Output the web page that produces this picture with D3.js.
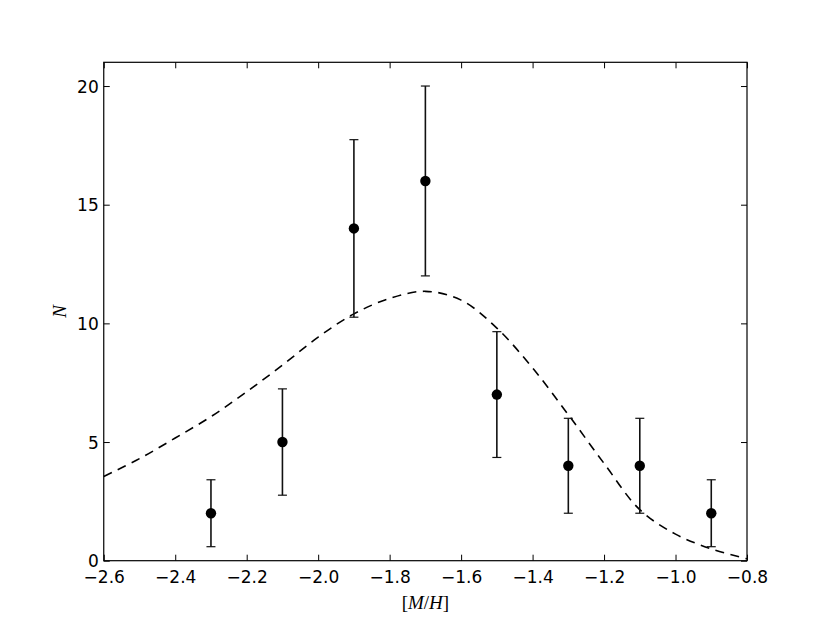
<!DOCTYPE html>
<html><head><meta charset="utf-8">
<script src="https://cdn.jsdelivr.net/npm/d3@7"></script>
<style>body{margin:0;background:#fff}svg{display:block}</style>
</head><body>
<script>
const metallicity = [-2.3, -2.1, -1.9, -1.7, -1.5, -1.3, -1.1, -0.9];
const counts = [2, 5, 14, 16, 7, 4, 4, 2];
const errors = [1.41, 2.24, 3.74, 4.0, 2.65, 2.0, 2.0, 1.41];
const curveX = [-2.6, -2.5, -2.4, -2.3, -2.2, -2.1, -2.0, -1.9, -1.8, -1.7, -1.6, -1.5, -1.4, -1.3, -1.2, -1.1, -1.0, -0.9, -0.8];
const curveY = [3.55, 4.3, 5.17, 6.07, 7.12, 8.24, 9.42, 10.4, 11.05, 11.35, 10.98, 9.8, 8.12, 6.15, 4.1, 2.15, 1.12, 0.5, 0.08];
const xTicks = [-2.6, -2.4, -2.2, -2.0, -1.8, -1.6, -1.4, -1.2, -1.0, -0.8];
const yTicks = [0, 5, 10, 15, 20];

const W = 830, H = 623;
const m = {left: 103.75, right: 747, top: 62.3, bottom: 560.7};
const svg = d3.select("body").append("svg").attr("width", W).attr("height", H);
const x = d3.scaleLinear().domain([-2.6, -0.8]).range([m.left, m.right]);
const y = d3.scaleLinear().domain([0, 21]).range([m.bottom, m.top]);
const font = "DejaVu Sans, sans-serif";
const fs = "17px";

// dashed model curve
const line = d3.line().x((d, i) => x(curveX[i])).y(d => y(d)).curve(d3.curveCatmullRom.alpha(0.5));
svg.append("path").datum(curveY).attr("d", line)
  .attr("fill", "none").attr("stroke", "#000").attr("stroke-width", 1.6)
  .attr("stroke-dasharray", "9,6.5");

// error bars
const eb = svg.append("g").attr("stroke", "#111").attr("stroke-width", 1.6);
metallicity.forEach((v, i) => {
  const lo = y(counts[i] - errors[i]), hi = y(counts[i] + errors[i]), cx = x(v);
  eb.append("line").attr("x1", cx).attr("x2", cx).attr("y1", lo).attr("y2", hi);
  eb.append("line").attr("x1", cx - 4.5).attr("x2", cx + 4.5).attr("y1", lo).attr("y2", lo).attr("stroke-width", 1.2);
  eb.append("line").attr("x1", cx - 4.5).attr("x2", cx + 4.5).attr("y1", hi).attr("y2", hi).attr("stroke-width", 1.2);
});
svg.append("g").selectAll("circle").data(counts).join("circle")
  .attr("cx", (d, i) => x(metallicity[i])).attr("cy", d => y(d)).attr("r", 5.2).attr("fill", "#000");

// axes with inward ticks on all sides
const fmtX = d3.format(".1f");
const tl = 6;
const gB = svg.append("g").attr("transform", `translate(0,${m.bottom})`)
  .call(d3.axisBottom(x).tickValues(xTicks).tickFormat(fmtX).tickSizeInner(-tl).tickSizeOuter(0).tickPadding(10));
const gT = svg.append("g").attr("transform", `translate(0,${m.top})`)
  .call(d3.axisTop(x).tickValues(xTicks).tickFormat("").tickSizeInner(-tl).tickSizeOuter(0));
const gL = svg.append("g").attr("transform", `translate(${m.left},0)`)
  .call(d3.axisLeft(y).tickValues(yTicks).tickFormat(d3.format("d")).tickSizeInner(-tl).tickSizeOuter(0).tickPadding(5));
const gR = svg.append("g").attr("transform", `translate(${m.right},0)`)
  .call(d3.axisRight(y).tickValues(yTicks).tickFormat("").tickSizeInner(-tl).tickSizeOuter(0));
[gB, gT, gL, gR].forEach(g => {
  g.select(".domain").remove();
  g.selectAll("line").attr("stroke", "#000").attr("stroke-width", 1);
  g.selectAll("text").attr("font-family", font).attr("font-size", fs).attr("fill", "#000");
});
gL.selectAll("text").attr("dy", "0.36em");

// frame
svg.append("rect").attr("x", m.left).attr("y", m.top)
  .attr("width", m.right - m.left).attr("height", m.bottom - m.top)
  .attr("fill", "none").attr("stroke", "#000").attr("stroke-width", 1.2);

// axis labels
const serif = "Liberation Serif, DejaVu Serif, serif";
const xl = svg.append("text").attr("x", (m.left + m.right) / 2).attr("y", 609)
  .attr("text-anchor", "middle").attr("font-family", serif).attr("font-size", "19px");
xl.append("tspan").text("[");
xl.append("tspan").attr("font-style", "italic").text("M");
xl.append("tspan").text("/");
xl.append("tspan").attr("font-style", "italic").text("H");
xl.append("tspan").text("]");
svg.append("text").attr("transform", `translate(66,${(m.top + m.bottom) / 2}) rotate(-90)`)
  .attr("text-anchor", "middle").attr("font-family", serif).attr("font-style", "italic")
  .attr("font-size", "19px").text("N");
</script>
</body></html>
